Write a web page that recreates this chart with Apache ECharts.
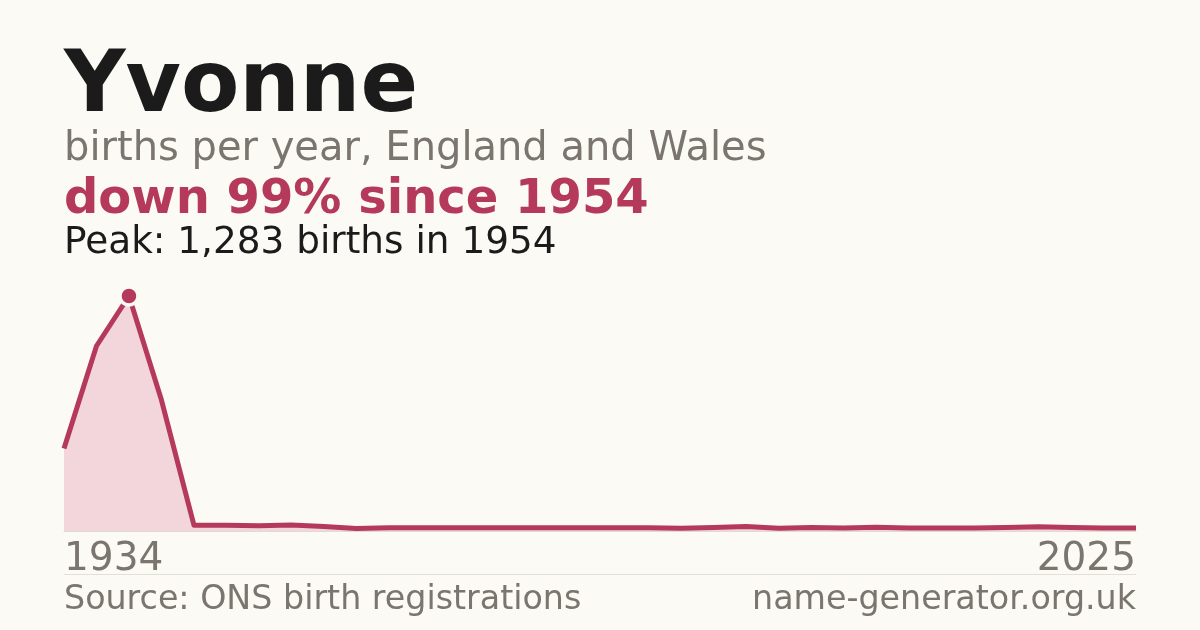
<!DOCTYPE html>
<html>
<head>
<meta charset="utf-8">
<script src="https://cdn.jsdelivr.net/npm/echarts@6/dist/echarts.min.js"></script>
<style>
  html, body { margin: 0; padding: 0; background: #fbfaf5; }
  #chart { width: 1200px; height: 630px; }
</style>
</head>
<body>
<div id="chart"></div>
<script>
// ---- data ----
const years = ['1934','1944','1954','1964','1974','1984','1994',
  '1999','2000','2001','2002','2003','2004','2005','2006','2007','2008','2009','2010',
  '2011','2012','2013','2014','2015','2016','2017','2018','2019','2020','2021','2022','2023','2024','2025'];
const births = [450, 1010, 1283, 715, 32, 31, 28,
  33, 24, 14, 18, 18, 18, 18, 18, 18, 18, 18, 18,
  15, 19, 24, 15, 19, 16, 20, 17, 17, 17, 19, 23, 19, 17, 17];
const nameTitle = 'Yvonne';
const subtitle = 'births per year, England and Wales';
const headline = 'down 99% since 1954';
const peakText = 'Peak: 1,283 births in 1954';
const sourceText = 'Source: ONS birth registrations';
const siteText = 'name-generator.org.uk';

const peakValue = Math.max(...births);
const peakIndex = births.indexOf(peakValue);

const FONT = '"DejaVu Sans", Verdana, sans-serif';
const RED = '#b5395a';
const GREY = '#7a756e';

const chart = echarts.init(document.getElementById('chart'), null, { renderer: 'canvas' });

const seriesData = births.map((v, i) => i === peakIndex
  ? { value: v, symbol: 'circle', symbolSize: 18,
      itemStyle: { color: RED, borderColor: '#fbfaf5', borderWidth: 3.5 } }
  : v);

chart.setOption({
  backgroundColor: '#fbfaf5',
  animation: false,
  grid: { left: 64, right: 64, top: 296, bottom: 99, containLabel: false },
  xAxis: {
    type: 'category',
    data: years,
    boundaryGap: false,
    axisLine: { show: true, lineStyle: { color: '#dedbd3', width: 1 } },
    axisTick: { show: false },
    splitLine: { show: false },
    axisLabel: {
      show: true,
      interval: (i) => i === 0 || i === years.length - 1,
      color: GREY,
      fontFamily: FONT,
      fontSize: 39,
      margin: 9,
      alignMinLabel: 'left',
      alignMaxLabel: 'right'
    }
  },
  yAxis: {
    type: 'value',
    min: 0,
    max: peakValue,
    show: false,
    splitLine: { show: false }
  },
  series: [{
    type: 'line',
    data: seriesData,
    symbol: 'none',
    showSymbol: true,
    showAllSymbol: true,
    lineStyle: { color: RED, width: 5, join: 'round' },
    areaStyle: { color: '#f2d6dc', opacity: 1 },
    z: 3
  }],
  graphic: [
    { type: 'text', left: 64, top: 46,
      style: { text: nameTitle, font: 'bold 85px ' + FONT, fill: '#1b1b1b' } },
    { type: 'text', left: 64, top: 130,
      style: { text: subtitle, font: '40px ' + FONT, fill: GREY } },
    { type: 'text', left: 64, top: 177,
      style: { text: headline, font: 'bold 48px ' + FONT, fill: RED } },
    { type: 'text', left: 64, top: 225,
      style: { text: peakText, font: '37.4px ' + FONT, fill: '#1b1b1b' } },
    { type: 'line', shape: { x1: 64, y1: 574.5, x2: 1136, y2: 574.5 },
      style: { stroke: '#e2dfd8', lineWidth: 1 } },
    { type: 'text', left: 64, top: 584,
      style: { text: sourceText, font: '33.3px ' + FONT, fill: GREY } },
    { type: 'text', right: 64, top: 584,
      style: { text: siteText, font: '33.3px ' + FONT, fill: GREY } }
  ]
});
</script>
</body>
</html>
